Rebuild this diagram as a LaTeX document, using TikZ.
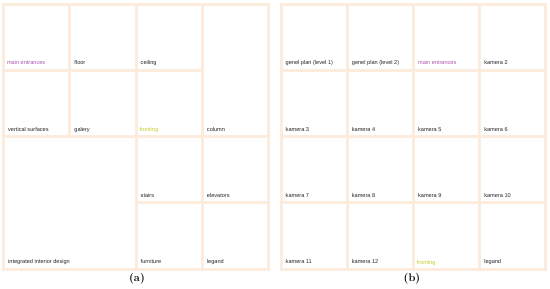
\documentclass[tikz,border=0pt]{standalone}
\usepackage{fontspec}
\newfontfamily\lblfont{Liberation Sans}
\definecolor{gridc}{RGB}{252,236,222}
\definecolor{purp}{RGB}{175,85,175}
\definecolor{ylw}{RGB}{195,205,40}
\tikzset{
  cell/.style={draw=gridc, line width=3pt, fill=white},
  lbl/.style={anchor=base west, inner sep=0pt, font=\lblfont\fontsize{5.6}{6}\selectfont, text=black!85},
  captxt/.style={font=\bfseries\fontsize{11}{13}\selectfont, inner sep=0pt}
}
\begin{document}
\begin{tikzpicture}[x=1pt,y=-1pt]
\useasboundingbox (0,0) rectangle (550,289);
% ---- panel (a) grid
\def\xa{3.5}\def\xb{69.75}\def\xc{136}\def\xd{202.25}\def\xe{268.5}
\def\ya{4}\def\yb{70.25}\def\yc{136.5}\def\yd{202.75}\def\ye{269}
\draw[cell] (\xa,\ya) rectangle (\xb,\yb);
\draw[cell] (\xb,\ya) rectangle (\xc,\yb);
\draw[cell] (\xc,\ya) rectangle (\xd,\yb);
\draw[cell] (\xd,\ya) rectangle (\xe,\yc);
\draw[cell] (\xa,\yb) rectangle (\xb,\yc);
\draw[cell] (\xb,\yb) rectangle (\xc,\yc);
\draw[cell] (\xc,\yb) rectangle (\xd,\yc);
\draw[cell] (\xa,\yc) rectangle (\xc,\ye);
\draw[cell] (\xc,\yc) rectangle (\xd,\yd);
\draw[cell] (\xd,\yc) rectangle (\xe,\yd);
\draw[cell] (\xc,\yd) rectangle (\xd,\ye);
\draw[cell] (\xd,\yd) rectangle (\xe,\ye);
\node[lbl, text=purp] (a1) at (\xa+3.3,\yb-5.4) {main entrances};
\node[lbl] (a2) at (\xb+4.5,\yb-5.4) {floor};
\node[lbl] (a3) at (\xc+4.5,\yb-5.4) {ceiling};
\node[lbl] (a4) at (\xd+4.5,\yc-5.4) {column};
\node[lbl] (a5) at (\xa+4.5,\yc-5.4) {vertical surfaces};
\node[lbl] (a6) at (\xb+4.5,\yc-5.4) {galery};
\node[lbl, text=ylw] (a7) at (\xc+3.3,\yc-5.2) {fronting};
\node[lbl] (a8) at (\xa+4.5,\ye-5.4) {integrated interior design};
\node[lbl] (a9) at (\xc+4.5,\yd-5.4) {stairs};
\node[lbl] (a10) at (\xd+4.5,\yd-5.4) {elevators};
\node[lbl] (a11) at (\xc+4.5,\ye-5.4) {furniture};
\node[lbl] (a12) at (\xd+4.5,\ye-5.4) {legand};
\node[captxt] (capa) at (137,279) {(a)};
% ---- panel (b) grid
\def\ra{281}\def\rb{347.2}\def\rc{413.4}\def\rd{479.6}\def\re{545.8}
\foreach \x/\xx in {\ra/\rb,\rb/\rc,\rc/\rd,\rd/\re}{
  \foreach \y/\yy in {\ya/\yb,\yb/\yc,\yc/\yd,\yd/\ye}{
    \draw[cell] (\x,\y) rectangle (\xx,\yy);
  }
}
\node[lbl] (b1) at (\ra+4.5,\yb-5.4) {genel plan (level 1)};
\node[lbl] (b2) at (\rb+4.5,\yb-5.4) {genel plan (level 2)};
\node[lbl, text=purp] (b3) at (\rc+4.5,\yb-5.4) {main entrances};
\node[lbl] (b4) at (\rd+4.5,\yb-5.4) {kamera 2};
\node[lbl] (b5) at (\ra+4.5,\yc-5.4) {kamera 3};
\node[lbl] (b6) at (\rb+4.5,\yc-5.4) {kamera 4};
\node[lbl] (b7) at (\rc+4.5,\yc-5.4) {kamera 5};
\node[lbl] (b8) at (\rd+4.5,\yc-5.4) {kamera 6};
\node[lbl] (b9) at (\ra+4.5,\yd-5.4) {kamera 7};
\node[lbl] (b10) at (\rb+4.5,\yd-5.4) {kamera 8};
\node[lbl] (b11) at (\rc+4.5,\yd-5.4) {kamera 9};
\node[lbl] (b12) at (\rd+4.5,\yd-5.4) {kamera 10};
\node[lbl] (b13) at (\ra+4.5,\ye-5.4) {kamera 11};
\node[lbl] (b14) at (\rb+4.5,\ye-5.4) {kamera 12};
\node[lbl, text=ylw] (b15) at (\rc+3.3,\ye-5.0) {fronting};
\node[lbl] (b16) at (\rd+4.5,\ye-5.4) {legand};
\node[captxt] (capb) at (412,279) {(b)};
\end{tikzpicture}
\end{document}
